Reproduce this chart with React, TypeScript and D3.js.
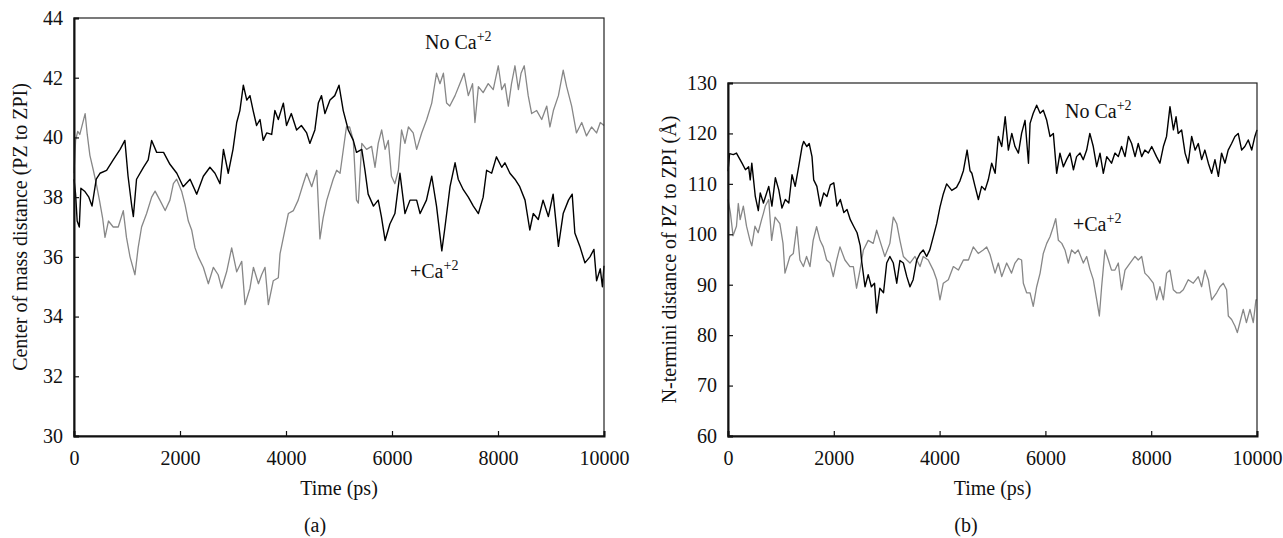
import React, { useEffect, useRef } from "react";
import * as d3 from "d3";

// [time (ps), distance]
const comNoCa: [number, number][] = [
  [0, 38.8], [30, 39.9], [70, 40.2], [110, 40.1], [210, 40.8], [250, 40.1], [300, 39.4], [365, 38.9],
  [420, 38.45], [480, 37.9], [540, 37.3], [585, 36.65], [650, 37.2], [740, 37.0], [835, 37.0], [930, 37.55],
  [990, 36.65], [1057, 36.0], [1150, 35.4], [1210, 36.3], [1275, 37.0], [1370, 37.45], [1465, 38.0], [1530, 38.2],
  [1620, 37.9], [1720, 37.55], [1810, 37.9], [1875, 38.45], [1937, 38.6], [2030, 38.2], [2095, 37.75], [2157, 37.2],
  [2220, 36.9], [2283, 36.3], [2345, 36.0], [2440, 35.65], [2535, 35.1], [2630, 35.65], [2720, 35.4], [2786, 34.95],
  [2880, 35.5], [2975, 36.3], [3070, 35.5], [3165, 35.85], [3227, 34.4], [3320, 34.95], [3385, 35.65], [3480, 35.1],
  [3540, 35.4], [3604, 35.65], [3667, 34.4], [3760, 35.2], [3855, 35.3], [3887, 36.1], [3980, 36.9], [4044, 37.45],
  [4140, 37.55], [4230, 37.9], [4325, 38.45], [4390, 38.8], [4485, 38.35], [4580, 38.9], [4640, 36.6], [4700, 37.3],
  [4770, 37.9], [4890, 38.6], [4956, 38.9], [5020, 38.8], [5140, 40.35], [5200, 40.35], [5270, 39.9], [5330, 37.9],
  [5365, 37.8], [5430, 39.8], [5520, 39.6], [5615, 39.7], [5680, 39.0], [5740, 39.8], [5805, 40.25], [5870, 39.6],
  [5930, 39.9], [5990, 38.7], [6055, 38.45], [6120, 38.9], [6180, 40.25], [6245, 39.8], [6310, 40.35], [6400, 40.15],
  [6465, 39.6], [6560, 40.15], [6655, 40.6], [6750, 41.15], [6840, 42.15], [6905, 41.8], [6970, 42.15], [7030, 41.15],
  [7090, 41.05], [7190, 41.4], [7280, 41.8], [7360, 42.15], [7440, 41.4], [7520, 41.8], [7565, 40.5], [7630, 41.7],
  [7720, 41.5], [7815, 41.8], [7910, 41.6], [8005, 42.4], [8070, 41.6], [8130, 41.8], [8195, 41.05], [8255, 41.8],
  [8320, 42.4], [8385, 41.6], [8435, 42.15], [8495, 42.4], [8570, 41.4], [8635, 40.8], [8730, 40.9], [8825, 40.6],
  [8920, 41.05], [8980, 40.35], [9045, 40.9], [9140, 41.4], [9230, 42.25], [9295, 41.7], [9390, 41.05], [9480, 40.15],
  [9580, 40.5], [9670, 40.05], [9765, 40.35], [9860, 40.15], [9930, 40.5], [10000, 40.4],
];

const comCa: [number, number][] = [
  [0, 38.6], [30, 38.1], [60, 37.2], [100, 37.0], [130, 38.3], [200, 38.2], [280, 38.0], [340, 37.7],
  [420, 38.6], [490, 38.8], [615, 38.9], [740, 39.25], [870, 39.6], [960, 39.9], [1020, 38.7], [1090, 37.7],
  [1120, 37.35], [1180, 38.6], [1310, 39.0], [1400, 39.25], [1465, 39.9], [1560, 39.5], [1690, 39.5], [1810, 39.1],
  [1940, 38.8], [2060, 38.35], [2190, 38.6], [2315, 38.1], [2440, 38.7], [2565, 39.0], [2660, 38.8], [2755, 38.45],
  [2820, 39.6], [2910, 38.8], [3000, 39.6], [3070, 40.5], [3130, 40.9], [3195, 41.75], [3260, 41.25], [3320, 41.4],
  [3380, 40.9], [3445, 40.4], [3510, 40.6], [3570, 39.9], [3635, 40.15], [3730, 40.1], [3790, 40.9], [3855, 40.6],
  [3950, 41.15], [4010, 40.4], [4100, 40.8], [4200, 40.25], [4290, 40.4], [4390, 40.15], [4450, 39.8], [4545, 40.25],
  [4610, 41.15], [4670, 41.4], [4735, 40.8], [4830, 41.25], [4920, 41.4], [5000, 41.75], [5080, 40.9], [5175, 40.25],
  [5270, 39.9], [5330, 39.5], [5430, 39.6], [5490, 38.9], [5550, 38.1], [5650, 37.7], [5740, 37.9], [5800, 37.35],
  [5870, 36.55], [5960, 37.1], [6055, 37.45], [6150, 38.8], [6245, 37.45], [6340, 37.9], [6465, 37.9], [6530, 37.45],
  [6650, 37.9], [6750, 38.7], [6840, 37.7], [6940, 36.2], [7000, 37.0], [7095, 38.35], [7190, 39.15], [7250, 38.6],
  [7345, 38.25], [7440, 38.0], [7535, 37.7], [7630, 37.45], [7720, 38.0], [7785, 38.9], [7880, 38.8], [7970, 39.35],
  [8070, 39.0], [8130, 39.15], [8225, 38.8], [8320, 38.6], [8410, 38.35], [8510, 37.9], [8600, 36.9], [8665, 37.45],
  [8760, 37.25], [8850, 37.9], [8950, 37.35], [9040, 38.1], [9140, 36.35], [9230, 37.45], [9330, 37.9], [9400, 38.1],
  [9450, 36.8], [9545, 36.35], [9640, 35.8], [9735, 36.0], [9810, 36.25], [9860, 35.2], [9930, 35.6], [9970, 35.0],
  [10000, 35.7],
];

const ntNoCa: [number, number][] = [
  [0, 112.5], [30, 116.0], [100, 115.8], [160, 116.1], [265, 114.1], [330, 112.8], [390, 113.4], [420, 110.8],
  [450, 114.1], [516, 107.5], [573, 104.7], [610, 108.2], [670, 106.2], [770, 109.5], [830, 105.6], [895, 111.2],
  [960, 108.8], [1020, 105.2], [1084, 106.9], [1150, 106.2], [1210, 111.8], [1270, 109.5], [1336, 113.4], [1400, 117.4],
  [1430, 118.4], [1490, 117.4], [1535, 118.0], [1588, 115.4], [1620, 110.8], [1680, 109.5], [1745, 105.6], [1810, 108.2],
  [1870, 107.5], [1934, 109.8], [2000, 110.2], [2060, 105.6], [2123, 106.9], [2190, 104.3], [2250, 104.9], [2312, 102.9],
  [2375, 101.6], [2440, 100.3], [2500, 97.7], [2525, 94.8], [2590, 89.6], [2650, 92.0], [2710, 89.6], [2770, 90.3],
  [2810, 84.4], [2870, 89.3], [2940, 88.4], [3000, 94.3], [3060, 95.6], [3125, 94.3], [3190, 90.3], [3250, 94.8],
  [3315, 94.3], [3380, 91.6], [3440, 89.6], [3500, 91.0], [3565, 94.8], [3630, 96.2], [3690, 96.9], [3755, 95.6],
  [3815, 96.9], [3880, 99.5], [3945, 102.1], [4007, 105.4], [4070, 108.0], [4133, 110.0], [4230, 108.7], [4320, 109.3],
  [4385, 110.6], [4450, 112.6], [4520, 116.7], [4575, 112.6], [4610, 112.1], [4670, 109.5], [4733, 106.9], [4795, 109.5],
  [4860, 108.8], [4920, 110.8], [4985, 114.1], [5050, 112.1], [5110, 119.4], [5175, 117.4], [5240, 123.3], [5300, 116.7],
  [5365, 120.0], [5425, 117.4], [5490, 116.1], [5550, 120.0], [5615, 122.6], [5680, 114.1], [5710, 122.0], [5770, 124.0],
  [5835, 125.6], [5900, 124.0], [5960, 124.6], [6025, 122.6], [6087, 119.4], [6150, 120.0], [6213, 112.1], [6275, 116.1],
  [6340, 113.4], [6400, 114.8], [6465, 116.1], [6530, 112.8], [6590, 115.4], [6655, 116.1], [6715, 114.8], [6780, 116.7],
  [6840, 120.0], [6905, 117.4], [6970, 113.4], [7032, 116.1], [7095, 112.1], [7160, 115.4], [7250, 114.1], [7315, 116.1],
  [7378, 115.4], [7440, 117.4], [7505, 115.4], [7570, 119.4], [7630, 118.0], [7695, 115.4], [7755, 118.0], [7820, 115.4],
  [7880, 116.7], [7945, 116.1], [8010, 117.4], [8100, 115.4], [8165, 114.1], [8230, 117.4], [8290, 119.4], [8355, 125.3],
  [8420, 120.7], [8470, 123.3], [8510, 120.0], [8575, 120.7], [8640, 116.1], [8700, 114.1], [8765, 119.4], [8830, 116.7],
  [8890, 118.0], [8954, 114.8], [9015, 116.7], [9080, 114.1], [9143, 112.1], [9205, 114.8], [9270, 111.5], [9330, 116.1],
  [9395, 114.1], [9455, 116.7], [9520, 118.0], [9583, 119.4], [9645, 120.0], [9710, 116.7], [9770, 117.4], [9835, 118.7],
  [9900, 116.7], [9960, 119.4], [10000, 120.7],
];

const ntCa: [number, number][] = [
  [0, 106.9], [45, 104.3], [95, 99.7], [160, 101.6], [195, 106.1], [230, 102.9], [290, 105.6], [350, 101.6],
  [415, 98.8], [450, 97.7], [510, 101.6], [570, 100.3], [635, 102.9], [668, 104.1], [705, 105.6], [770, 106.9],
  [825, 98.8], [890, 103.4], [980, 102.1], [1040, 98.2], [1077, 92.3], [1170, 95.6], [1235, 96.2], [1300, 101.5],
  [1360, 94.9], [1425, 93.6], [1485, 95.6], [1550, 93.6], [1610, 98.8], [1675, 101.5], [1740, 98.8], [1800, 97.5],
  [1865, 94.9], [1930, 94.3], [1990, 91.6], [2055, 94.9], [2117, 97.5], [2210, 94.9], [2305, 93.6], [2370, 93.6],
  [2430, 89.3], [2495, 92.9], [2560, 96.9], [2650, 98.8], [2745, 98.2], [2810, 100.8], [2870, 98.8], [2965, 95.6],
  [3060, 98.2], [3125, 103.4], [3190, 102.1], [3250, 98.8], [3315, 95.6], [3380, 94.9], [3440, 94.3], [3535, 95.6],
  [3630, 93.6], [3690, 95.6], [3785, 94.9], [3880, 92.9], [3945, 91.0], [4007, 87.0], [4070, 90.3], [4165, 91.0],
  [4260, 93.6], [4355, 92.9], [4450, 94.9], [4545, 94.9], [4637, 97.5], [4730, 96.2], [4825, 96.9], [4890, 97.5],
  [4953, 96.0], [5015, 93.6], [5048, 92.3], [5110, 94.3], [5175, 91.6], [5268, 94.3], [5360, 92.3], [5425, 94.3],
  [5490, 95.2], [5550, 94.9], [5583, 90.3], [5645, 88.4], [5710, 88.4], [5770, 85.7], [5835, 89.6], [5900, 92.3],
  [5960, 96.2], [6025, 98.2], [6087, 99.5], [6150, 101.5], [6195, 103.1], [6245, 98.8], [6310, 98.2], [6370, 96.9],
  [6433, 94.3], [6495, 96.9], [6560, 96.2], [6620, 96.9], [6717, 94.3], [6780, 95.6], [6843, 93.0], [6905, 91.0],
  [6970, 87.0], [7020, 83.8], [7063, 89.6], [7126, 96.9], [7190, 94.9], [7250, 92.9], [7315, 92.9], [7378, 94.3],
  [7440, 89.0], [7505, 92.9], [7600, 94.3], [7693, 95.6], [7755, 94.9], [7820, 95.6], [7880, 92.3], [7946, 91.6],
  [8040, 90.3], [8103, 87.0], [8165, 89.6], [8230, 87.0], [8292, 92.3], [8355, 92.9], [8418, 89.0], [8480, 88.4],
  [8544, 88.4], [8607, 89.0], [8700, 91.0], [8796, 90.3], [8890, 91.6], [8953, 89.6], [9017, 92.9], [9080, 91.0],
  [9143, 87.0], [9237, 88.4], [9300, 89.6], [9363, 90.3], [9425, 89.0], [9458, 83.8], [9520, 83.1], [9583, 81.8],
  [9628, 80.5], [9677, 82.5], [9740, 85.1], [9800, 82.5], [9867, 85.1], [9930, 82.5], [9980, 87.0], [10000, 87.0],
];

const timeTicks = [0, 2000, 4000, 6000, 8000, 10000];
const comTicks = [30, 32, 34, 36, 38, 40, 42, 44];
const ntTicks = [60, 70, 80, 90, 100, 110, 120, 130];

const FONT = "'Liberation Serif', 'Times New Roman', serif";

const App = () => {
  const ref = useRef<SVGSVGElement>(null);

  useEffect(() => {
    draw();
  });

  const drawPanel = (svg: any, o: any) => {
    const x = d3.scaleLinear().domain([0, 10000]).range([o.left, o.right]);
    const y = d3.scaleLinear().domain(o.yDomain).range([o.bottom, o.top]);

    const g = svg.append("g");

    const line = d3
      .line<[number, number]>()
      .x((d) => x(d[0]))
      .y((d) => y(d[1]));

    g.append("path")
      .datum(o.gray)
      .attr("d", line)
      .attr("fill", "none")
      .attr("stroke", "#878787")
      .attr("stroke-width", 1.3)
      .attr("stroke-linejoin", "round");

    g.append("path")
      .datum(o.black)
      .attr("d", line)
      .attr("fill", "none")
      .attr("stroke", "#000")
      .attr("stroke-width", 1.4)
      .attr("stroke-linejoin", "round");

    // frame
    g.append("rect")
      .attr("x", o.left)
      .attr("y", o.top)
      .attr("width", o.right - o.left)
      .attr("height", o.bottom - o.top)
      .attr("fill", "none")
      .attr("stroke", "#222")
      .attr("stroke-width", 1.2);

    const xAxis = g
      .append("g")
      .attr("transform", `translate(0,${o.bottom})`)
      .call(d3.axisBottom(x).tickValues(timeTicks).tickFormat(d3.format("d")).tickSize(-5).tickPadding(15));
    const yAxis = g
      .append("g")
      .attr("transform", `translate(${o.left},0)`)
      .call(d3.axisLeft(y).tickValues(o.yTicks).tickFormat(d3.format("d")).tickSize(-5).tickPadding(11));

    [xAxis, yAxis].forEach((a) => {
      a.select(".domain").attr("stroke-width", 2).attr("stroke", "#111");
      a.selectAll(".tick line").attr("stroke-width", 1.2).attr("stroke", "#111");
      a.selectAll("text").style("font-family", FONT).style("font-size", "20px").attr("fill", "#111");
    });

    g.append("text")
      .attr("x", (o.left + o.right) / 2)
      .attr("y", o.bottom + 59)
      .attr("text-anchor", "middle")
      .style("font-family", FONT)
      .style("font-size", "20px")
      .attr("fill", "#111")
      .text("Time (ps)");

    g.append("text")
      .attr("transform", `translate(${o.yLabelX},${(o.top + o.bottom) / 2 + o.yLabelShift}) rotate(-90)`)
      .attr("text-anchor", "middle")
      .style("font-family", FONT)
      .style("font-size", "20px")
      .attr("fill", "#111")
      .text(o.yLabel);

    g.append("text")
      .attr("x", o.capX)
      .attr("y", 532)
      .attr("text-anchor", "middle")
      .style("font-family", FONT)
      .style("font-size", "20px")
      .attr("fill", "#111")
      .text(o.caption);

    o.labels.forEach((l: any) => {
      const t = g
        .append("text")
        .attr("x", l.x)
        .attr("y", l.y)
        .style("font-family", FONT)
        .style("font-size", "20px")
        .attr("fill", "#111");
      t.append("tspan").text(l.text);
      t.append("tspan").attr("dy", -8).style("font-size", "14px").text("+2");
    });
  };

  const draw = () => {
    const svg = d3.select(ref.current);
    svg.selectAll("*").remove();

    drawPanel(svg, {
      left: 74,
      right: 604,
      top: 18,
      bottom: 436,
      yDomain: [30, 44],
      yTicks: comTicks,
      gray: comNoCa,
      black: comCa,
      yLabel: "Center of mass distance (PZ to ZPI)",
      yLabelX: 27,
      yLabelShift: 0,
      caption: "(a)",
      capX: 315,
      labels: [
        { text: "No Ca", x: 425, y: 49 },
        { text: "+Ca", x: 410, y: 278 },
      ],
    });

    drawPanel(svg, {
      left: 728,
      right: 1257,
      top: 83,
      bottom: 436,
      yDomain: [60, 130],
      yTicks: ntTicks,
      gray: ntCa,
      black: ntNoCa,
      yLabel: "N-termini distance of PZ to ZPI (Å)",
      yLabelX: 676,
      yLabelShift: 0,
      caption: "(b)",
      capX: 966,
      labels: [
        { text: "No Ca", x: 1065, y: 118 },
        { text: "+Ca", x: 1073, y: 231 },
      ],
    });
  };

  return (
    <svg
      ref={ref}
      width={1283}
      height={538}
      style={{ position: "absolute", left: 0, top: 0, background: "#fff" }}
    />
  );
};

export default App;
